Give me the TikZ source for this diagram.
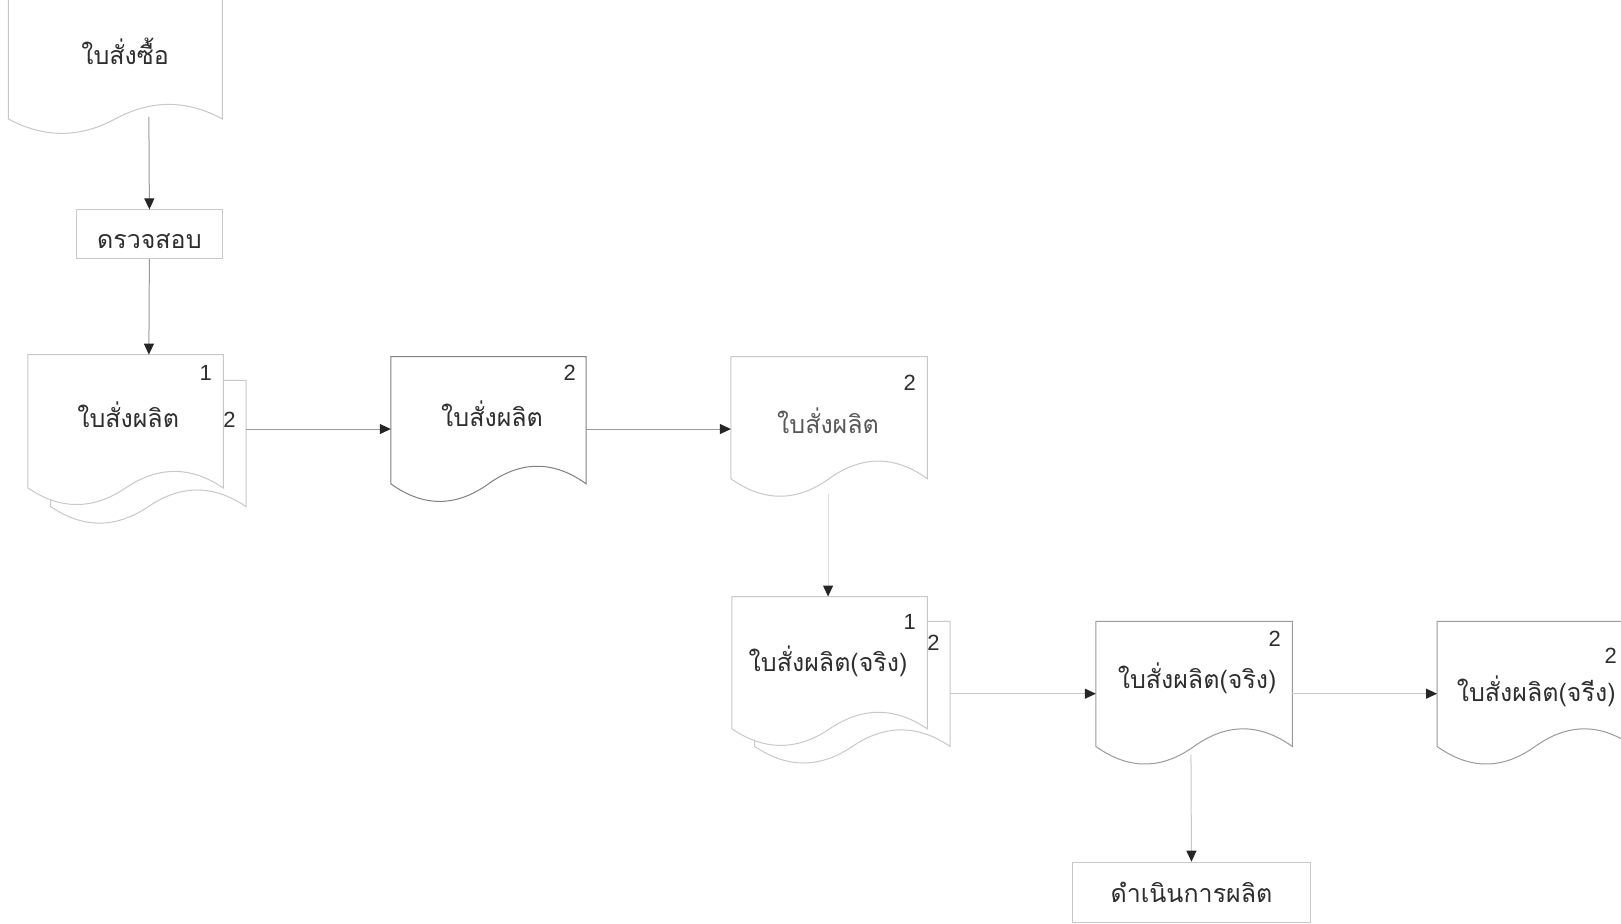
\documentclass[tikz,border=0pt]{standalone}
\usepackage{fontspec}
\setmainfont{Liberation Sans}
\newfontfamily\thai[Script=Thai]{Loma}
\usetikzlibrary{arrows.meta}
\definecolor{linegray}{HTML}{9A9A9A}
\definecolor{fadegray}{HTML}{C8C8C8}
\definecolor{darkline}{HTML}{808080}
\definecolor{txt}{HTML}{2E2E2E}
\newcommand\docshape[6][]{%
  \pgfmathsetmacro\dw{(#4-#2)/6}%
  \pgfmathsetmacro\dh{4*#6/3}%
  \draw[docline,#1] (#2,#5) -- (#2,#3) -- (#4,#3) -- (#4,#5)
    .. controls (#4-\dw,#5-\dh) and (#4-2*\dw,#5-\dh) .. (#4-3*\dw,#5)
    .. controls (#4-4*\dw,#5+\dh) and (#4-5*\dw,#5+\dh) .. (#2,#5) -- cycle;}
\newcommand\lowertext[2]{\raisebox{-#1}[\height][\depth]{#2}}
\tikzset{
  docline/.style={draw=linegray,fill=white,line width=0.5pt},
  faded/.style={draw=fadegray},
  dark/.style={draw=darkline},
  thaitext/.style={text=txt,font=\thai\fontsize{12.5}{14}\selectfont,inner sep=0pt},
  numtext/.style={text=txt,font=\fontsize{11}{12}\selectfont,inner sep=0pt},
  procbox/.style={draw=linegray,line width=0.5pt,text=txt,font=\thai\fontsize{12.5}{14}\selectfont},
  conn/.style={draw=linegray,line width=0.5pt,-{Triangle[length=5.5pt,width=5pt,fill=black!85,color=black!85]}},
}
\begin{document}
\begin{tikzpicture}[x=0.5168pt,y=-0.5168pt]
\useasboundingbox (0,0) rectangle (1568,893);
\clip (0,0) rectangle (1568,893);
\fill[white] (0,0) rectangle (1568,893);

% Document A
\docshape[faded]{8}{-20}{215}{115}{14}
\node[thaitext] (tA) at (121,50) {ใบสั่งซื้อ};
\coordinate (A-s) at (144,113);

% Box B
\node[procbox,minimum width={141*0.5168pt},minimum height={47*0.5168pt},draw=fadegray] (B) at (144.5,226.5) {\lowertext{3.4pt}{ดรวจสอบ}};

% Multi-document C
\docshape[faded]{49}{368}{238}{490}{16}
\docshape[faded]{27}{343}{216}{472}{16}
\node[thaitext] (tC) at (124,401) {ใบสั่งผลิต};
\node[numtext] (C1) at (199,361) {1};
\node[numtext] (C2) at (222,406) {2};
\coordinate (C-n) at (144,343);
\coordinate (C-e) at (238,415);

% Document D
\docshape[dark]{378}{345}{567}{468}{17}
\node[thaitext] (tD) at (476,400) {ใบสั่งผลิต};
\node[numtext] (D2) at (551,361) {2};
\coordinate (D-w) at (378,415);
\coordinate (D-e) at (567,415);

% Document E
\docshape[faded]{707}{345}{897}{463}{17}
\node[thaitext,text=txt!80] (tE) at (801,407) {ใบสั่งผลิต};
\node[numtext] (E2) at (880,370) {2};
\coordinate (E-w) at (707,415);
\coordinate (E-s) at (801,478);

% Multi-document F
\docshape[faded]{730}{601}{919}{722}{16}
\docshape[faded]{708}{577}{897}{705}{16}
\node[thaitext] (tF) at (801,640) {ใบสั่งผลิต(จริง)};
\node[numtext] (F1) at (880,602) {1};
\node[numtext] (F2) at (903,622) {2};
\coordinate (F-n) at (801,577);
\coordinate (F-e) at (919,671);

% Document G
\docshape{1060}{601}{1250}{722}{17}
\node[thaitext] (tG) at (1158,656) {ใบสั่งผลิต(จริง)};
\node[numtext] (G2) at (1233,618) {2};
\coordinate (G-w) at (1060,671);
\coordinate (G-e) at (1250,671);
\coordinate (G-s) at (1152,730);

% Document H
\docshape{1390}{601}{1580}{722}{17}
\node[thaitext] (tH) at (1486,669) {ใบสั่งผลิต(จรีง)};
\node[numtext] (H2) at (1558,634) {2};
\coordinate (H-w) at (1390,671);

% Box I
\node[procbox,minimum width={231*0.5168pt},minimum height={58*0.5168pt},draw=fadegray] (I) at (1152.5,863) {ดำเนินการผลิต};

% Connectors
\draw[conn] (A-s) -- (B.north);
\draw[conn] (B.south) -- (C-n);
\draw[conn] (C-e) -- (D-w);
\draw[conn] (D-e) -- (E-w);
\draw[conn,draw=fadegray!60] (E-s) -- (F-n);
\draw[conn,draw=fadegray] (F-e) -- (G-w);
\draw[conn,draw=fadegray] (G-e) -- (H-w);
\draw[conn,draw=fadegray] (G-s) -- (I.north);
\end{tikzpicture}
\end{document}
